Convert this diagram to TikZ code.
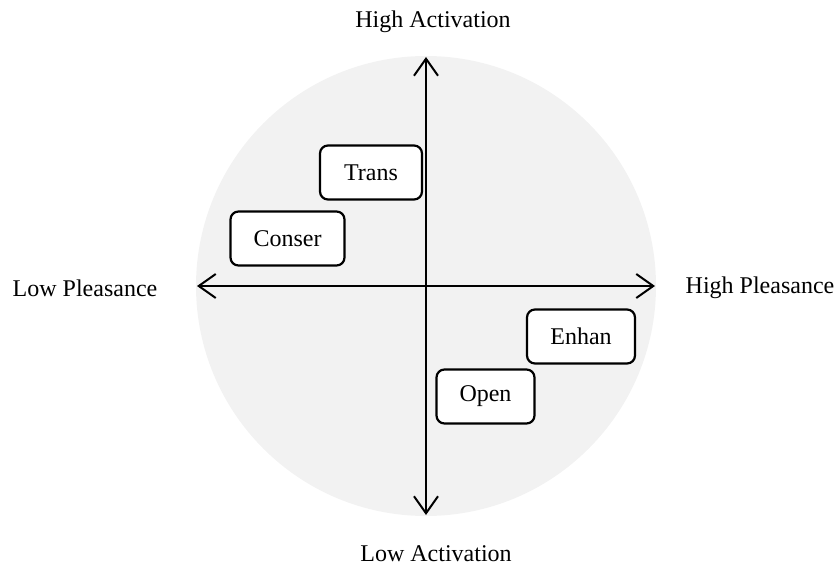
\documentclass[tikz,border=0pt]{standalone}
\usepackage{fontspec}
\setmainfont{Liberation Serif}
\usetikzlibrary{arrows.meta}
\definecolor{disc}{RGB}{242,242,242}
\tikzset{
  lbl/.style={font=\fontsize{24}{28}\selectfont, inner sep=0pt},
  tagbox/.style={draw=black, line width=2.2pt, fill=white, rounded corners=8pt,
    font=\fontsize{24}{28}\selectfont, minimum width=#1, minimum height=54pt, inner sep=0pt},
  axis/.style={line width=2pt, {Straight Barb[length=17pt,width=24pt,line width=2pt]}-{Straight Barb[length=17pt,width=24pt,line width=2pt]}}
}
\begin{document}
\begin{tikzpicture}[x=1pt,y=-1pt]
\useasboundingbox (0,0) rectangle (835,567);
\fill[disc] (426,286) circle (230pt);
\coordinate (L) at (197,286);
\coordinate (R) at (655,286);
\coordinate (T) at (426,57);
\coordinate (B) at (426,515);
\draw[axis] (L) -- (R);
\draw[axis] (B) -- (T);
\node[lbl] (ha) at (433,22) {High Activation};
\node[lbl] (la) at (436,554) {Low Activation};
\node[lbl] (lp) at (85,288) {Low Pleasance};
\node[lbl] (hp) at (760,288) {High Pleasance};
\node[tagbox=102pt] (trans) at (371,172.5) {Trans};
\node[tagbox=114pt] (conser) at (287.5,238.5) {Conser};
\node[tagbox=108pt] (enhan) at (581,336.5) {Enhan};
\node[tagbox=98pt] (open) at (485.5,396.5) {Open};
\end{tikzpicture}
\end{document}
